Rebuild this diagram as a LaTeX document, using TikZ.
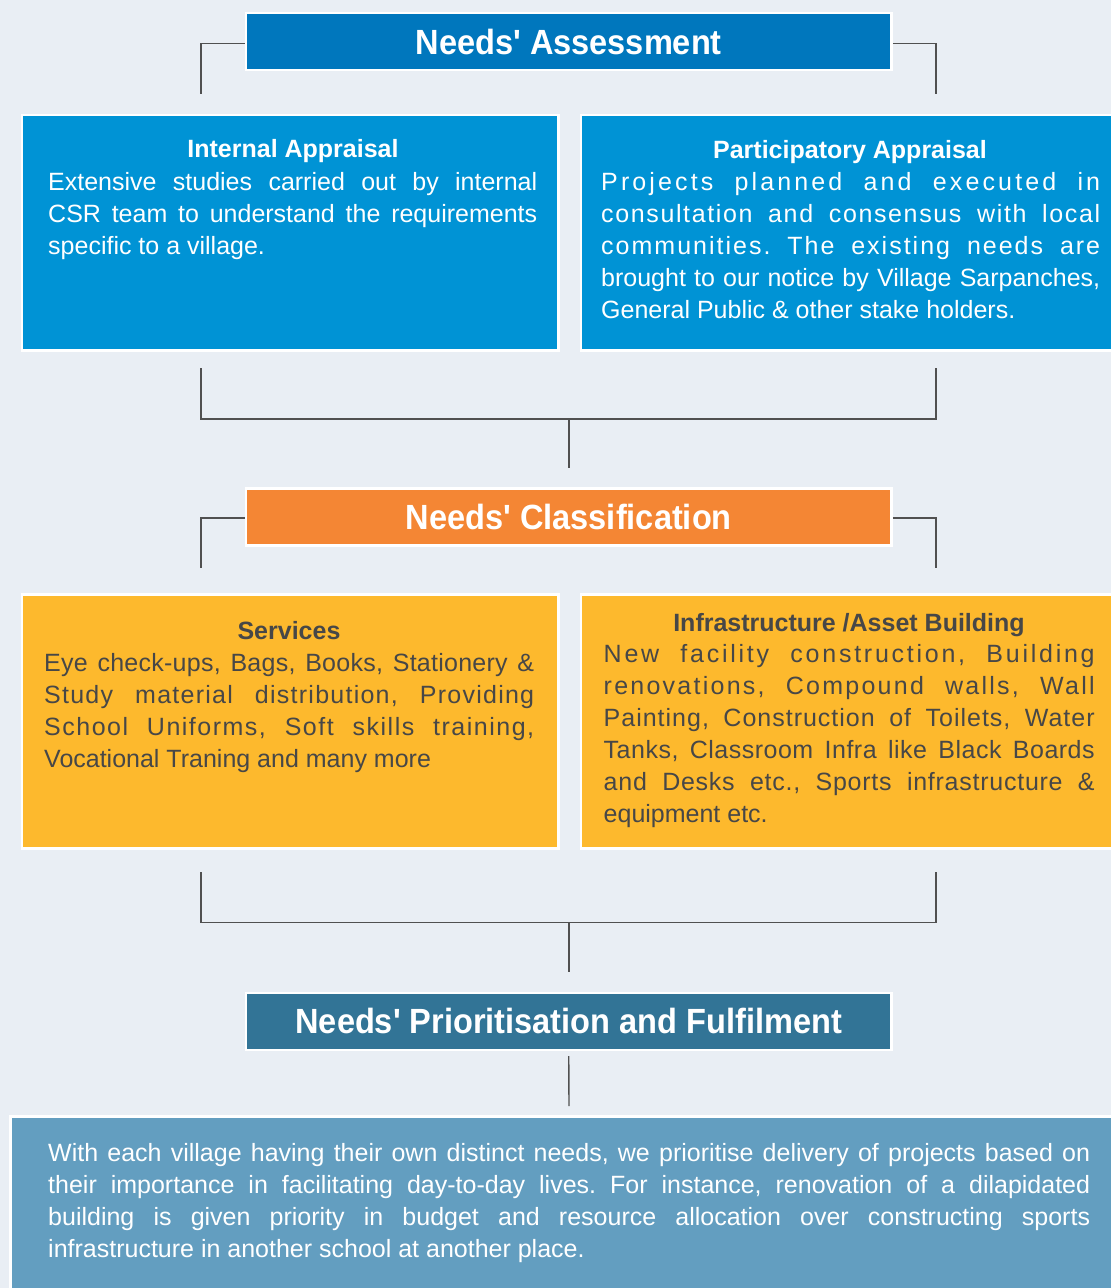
\documentclass[tikz,border=0pt]{standalone}
\usepackage{fontspec}
\setmainfont{Liberation Sans}
\newfontfamily\headfont[FakeStretch=0.93]{Liberation Sans}
\definecolor{bgcol}{HTML}{E9EEF4}
\definecolor{assesscol}{HTML}{0077BD}
\definecolor{apprcol}{HTML}{0093D5}
\definecolor{orangecol}{HTML}{F48634}
\definecolor{yellowcol}{HTML}{FDB92D}
\definecolor{priorcol}{HTML}{327496}
\definecolor{bottomcol}{HTML}{639EC0}
\definecolor{linecol}{HTML}{505050}
\definecolor{darktext}{HTML}{474747}
\newcommand{\jl}[2]{\makebox[#1][s]{\spaceskip=0pt\xspaceskip=0pt #2}}
\newcommand{\lsl}[3]{\makebox[#1][s]{\addfontfeature{LetterSpace=#2}\spaceskip=0pt\xspaceskip=0pt #3}}
\newcommand{\nl}[1]{\mbox{\spaceskip=0pt\xspaceskip=0pt #1}}
\tikzset{
  conn/.style={draw=linecol, line width=1.4pt},
  frame/.style={draw=white, line width=2.5pt, inner sep=0pt},
  header/.style={frame, minimum width=645.5pt, minimum height=57pt,
    text=white, font=\headfont\bfseries\fontsize{35}{40}\selectfont,
    text height=25pt, text depth=0pt},
  ttl/.style={inner sep=0pt, anchor=base, font=\bfseries\fontsize{25}{30}\selectfont},
  para/.style={inner sep=0pt, anchor=north west, align=left,
    font=\fontsize{25}{32}\selectfont\frenchspacing},
}
\begin{document}
\begin{tikzpicture}[x=1pt,y=-1pt]
\fill[bgcol] (0,0) rectangle (1111,1288);
\useasboundingbox (0,0) rectangle (1111,1288);

% ---------- Needs' Assessment ----------
\node[header, fill=assesscol] (assess) at (568.75,41.5) {Needs' Assessment};

\node[frame, fill=apprcol, anchor=north west, minimum width=536.5pt, minimum height=235.5pt] (internal) at (20.5,113.5) {};
\node[frame, fill=apprcol, anchor=north west, minimum width=540.5pt, minimum height=235.5pt] (partic) at (579.5,113.5) {};

\node[ttl, text=white] (internalT) at (293,157) {Internal Appraisal};
\node[para, text=white, text width=489pt] (internalB) at (48,166) {%
\jl{489pt}{\rule{0pt}{24pt}Extensive studies carried out by internal}\\
\jl{489pt}{CSR team to understand the requirements}\\
\nl{specific to a village.}};

\node[ttl, text=white] (particT) at (850,158) {Participatory Appraisal};
\node[para, text=white, text width=499pt] (particB) at (601,166) {%
\lsl{499pt}{12.5}{\rule{0pt}{24pt}Projects planned and executed in}\\
\lsl{499pt}{6.5}{consultation and consensus with local}\\
\lsl{499pt}{8}{communities. The existing needs are}\\
\jl{499pt}{brought to our notice by Village Sarpanches,}\\
\nl{General Public \& other stake holders.}};

\coordinate (aL) at (201,94);
\coordinate (aR) at (936,94);
\draw[conn] ([yshift=-2pt]assess.west) -| (aL);
\draw[conn] ([yshift=-2pt]assess.east) -| (aR);

\coordinate (bL) at (201,368);
\coordinate (bR) at (936,368);
\coordinate (bJ) at (569,419);
\coordinate (bE) at (569,468);
\draw[conn] (bL) |- (bJ) -| (bR);
\draw[conn] (bJ) -- (bE);

% ---------- Needs' Classification ----------
\node[header, fill=orangecol] (classif) at (568.75,517) {Needs' Classification};

\coordinate (cL) at (201,568);
\coordinate (cR) at (936,568);
\draw[conn] ([yshift=-1pt]classif.west) -| (cL);
\draw[conn] ([yshift=-1pt]classif.east) -| (cR);

\node[frame, fill=yellowcol, anchor=north west, minimum width=536.5pt, minimum height=254pt] (services) at (20.5,593) {};
\node[frame, fill=yellowcol, anchor=north west, minimum width=540.5pt, minimum height=254pt] (infra) at (579.5,593) {};

\node[ttl, text=darktext] (servicesT) at (289,639) {Services};
\node[para, text=darktext, text width=490pt] (servicesB) at (44,647) {%
\lsl{490pt}{1}{\rule{0pt}{24pt}Eye check-ups, Bags, Books, Stationery \&}\\
\lsl{490pt}{5}{Study material distribution, Providing}\\
\lsl{490pt}{6}{School Uniforms, Soft skills training,}\\
\nl{Vocational Traning and many more}};

\node[ttl, text=darktext] (infraT) at (849,631) {Infrastructure /Asset Building};
\node[para, text=darktext, text width=491pt] (infraB) at (603.5,638) {%
\lsl{491pt}{11}{\rule{0pt}{24pt}New facility construction, Building}\\
\lsl{491pt}{9}{renovations, Compound walls, Wall}\\
\lsl{491pt}{4}{Painting, Construction of Toilets, Water}\\
\lsl{491pt}{2}{Tanks, Classroom Infra like Black Boards}\\
\lsl{491pt}{3}{and Desks etc., Sports infrastructure \&}\\
\nl{equipment etc.}};

\coordinate (dL) at (201,872);
\coordinate (dR) at (936,872);
\coordinate (dJ) at (569,922.5);
\coordinate (dE) at (569,972);
\draw[conn] (dL) |- (dJ) -| (dR);
\draw[conn] (dJ) -- (dE);

% ---------- Needs' Prioritisation ----------
\node[header, fill=priorcol] (prior) at (568.75,1021.25) {Needs' Prioritisation and Fulfilment};

\node[frame, fill=bottomcol, anchor=north west, minimum width=1111pt, minimum height=200pt] (bottom) at (9,1115) {};
\coordinate (pE) at (569,1106);
\draw[conn] ([yshift=-5pt]prior.south) -- (pE);

\node[para, text=white, text width=1042pt] (bottomB) at (48,1137) {%
\jl{1042pt}{\rule{0pt}{24pt}With each village having their own distinct needs, we prioritise delivery of projects based on}\\
\jl{1042pt}{their importance in facilitating day-to-day lives. For instance, renovation of a dilapidated}\\
\jl{1042pt}{building is given priority in budget and resource allocation over constructing sports}\\
\nl{infrastructure in another school at another place.}};

\end{tikzpicture}
\end{document}
